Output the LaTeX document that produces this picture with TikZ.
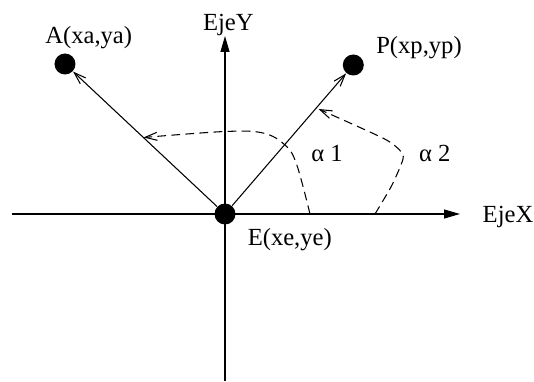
\documentclass[tikz,border=0pt]{standalone}
\usepackage{fontspec}
\setmainfont{Liberation Serif}
\usepackage{tikz}
\usetikzlibrary{arrows.meta}

\begin{document}
\begin{tikzpicture}[line width=0.6pt,
  dot/.style={circle,fill=black,inner sep=0pt,minimum size=0.42cm},
  lbl/.style={font=\fontsize{14}{16}\selectfont,inner sep=0pt},
  axis/.style={-{Triangle[length=3.2mm,width=1.8mm]}},
  barb/.style={-{Straight Barb[length=2.4mm,width=1.6mm]}},
  arcline/.style={barb,dash pattern=on 5pt off 3pt}]
\useasboundingbox (-4.5,-3.34) rectangle (6.18,4.28);
\coordinate (xl) at (-4.26,0); \coordinate (xr) at (4.7,0);
\coordinate (yb) at (0,-3.34); \coordinate (yt) at (0,3.56);
\draw[axis] (xl)--(xr);
\draw[axis] (yb)--(yt);
\node[dot] (E) at (0,0) {};
\node[dot] (A) at (-3.2,3.0) {};
\node[dot] (P) at (2.566,2.98) {};
\draw[barb] (E)--(A);
\draw[barb] (E)--(P);
\draw[arcline] plot[smooth,tension=0.6] coordinates {(1.7,0) (1.43,1.0) (1.2,1.38) (0.76,1.62) (0,1.65) (-1.63,1.53)};
\draw[arcline] plot[smooth,tension=0.45] coordinates {(3.0,0) (3.34,0.58) (3.56,1.1) (3.5,1.27) (3.166,1.514) (1.87,2.1)};
\node[lbl] (ejey) at (0.068,3.79) {EjeY};
\node[lbl] (ejex) at (5.66,-0.054) {EjeX};
\node[lbl] (la) at (-2.726,3.52) {A(xa,ya)};
\node[lbl] (lp) at (3.88,3.33) {P(xp,yp)};
\node[lbl] (le) at (1.296,-0.52) {E(xe,ye)};
\node[lbl] (a1) at (2.04,1.206) {α 1};
\node[lbl] (a2) at (4.194,1.206) {α 2};
\end{tikzpicture}
\end{document}
